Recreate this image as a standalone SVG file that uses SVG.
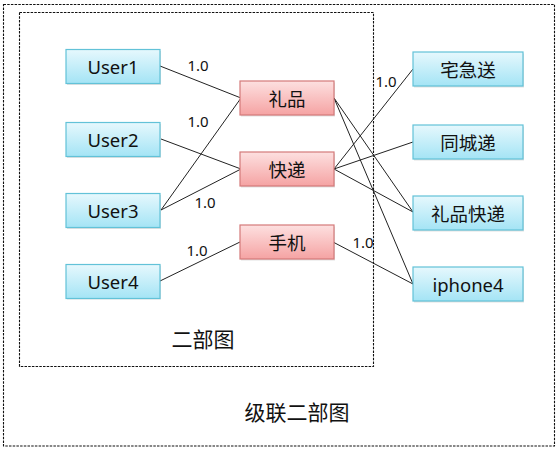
<svg xmlns="http://www.w3.org/2000/svg" width="557" height="449" viewBox="0 0 557 449">
<style>
.frame{fill:none;stroke:#111;stroke-width:1.1;stroke-dasharray:2.5,1.2}
.b{fill:url(#gb);stroke:#62c2d8;stroke-width:1.2}
.r{fill:url(#gr);stroke:#d47a7a;stroke-width:1.2}
.sh{fill:#000;opacity:0.12}
.t{font-family:"Noto Sans","Noto Sans CJK SC",sans-serif;font-size:18.5px;fill:#111;text-anchor:middle;dominant-baseline:central}
.w{font-family:"Noto Sans",sans-serif;font-size:15px;fill:#111;text-anchor:middle;dominant-baseline:central}
.cap{font-family:"Noto Sans CJK SC",sans-serif;font-size:21px;fill:#111;text-anchor:middle;dominant-baseline:central}
#edges line{stroke:#222;stroke-width:1}
</style>
<defs>
<linearGradient id="gb" x1="0" y1="0" x2="0" y2="1"><stop offset="0" stop-color="#e6f8fd"/><stop offset="1" stop-color="#a4e4f5"/></linearGradient>
<linearGradient id="gr" x1="0" y1="0" x2="0" y2="1"><stop offset="0" stop-color="#fde0e0"/><stop offset="1" stop-color="#f5a3a3"/></linearGradient>
</defs>
<rect width="557" height="449" fill="#fff"/>
<rect class="frame" x="3.5" y="4.5" width="551" height="441.5"/>
<rect class="frame" x="19.5" y="12.5" width="354" height="354"/>
<g id="edges">
<line x1="160" y1="66" x2="241" y2="98"/>
<line x1="161" y1="139" x2="241" y2="169"/>
<line x1="161" y1="210" x2="241" y2="98"/>
<line x1="161" y1="210" x2="241" y2="169"/>
<line x1="160" y1="281" x2="240" y2="242"/>
<line x1="334" y1="98" x2="413" y2="212"/>
<line x1="334" y1="98" x2="413" y2="284"/>
<line x1="334" y1="169" x2="413" y2="69"/>
<line x1="334" y1="169" x2="413" y2="142"/>
<line x1="334" y1="169" x2="413" y2="212"/>
<line x1="333" y1="242" x2="413" y2="284"/>
<text class="w" x="198" y="65">1.0</text>
<text class="w" x="198" y="121">1.0</text>
<text class="w" x="205" y="202">1.0</text>
<text class="w" x="197" y="250">1.0</text>
<text class="w" x="386" y="81">1.0</text>
<text class="w" x="363" y="242">1.0</text>
</g>
<g id="user1"><rect class="sh" x="67" y="51" width="94" height="34"/><rect class="b" x="66" y="49.5" width="94" height="34"/><text class="t" x="113" y="66.5">User1</text></g>
<g id="user2"><rect class="sh" x="67" y="124" width="94" height="34"/><rect class="b" x="66" y="122.5" width="94" height="34"/><text class="t" x="113" y="139.5">User2</text></g>
<g id="user3"><rect class="sh" x="67" y="195" width="94" height="34"/><rect class="b" x="66" y="193.5" width="94" height="34"/><text class="t" x="113" y="210.5">User3</text></g>
<g id="user4"><rect class="sh" x="67" y="265.5" width="94" height="34"/><rect class="b" x="66" y="264.5" width="94" height="34"/><text class="t" x="113" y="281.5">User4</text></g>
<g id="lipin"><rect class="sh" x="241" y="82.5" width="94" height="34"/><rect class="r" x="240" y="81" width="94" height="34"/><text class="t" x="287" y="98">礼品</text></g>
<g id="kuaidi"><rect class="sh" x="241" y="153.5" width="94" height="34"/><rect class="r" x="240" y="152" width="94" height="34"/><text class="t" x="287" y="169">快递</text></g>
<g id="shouji"><rect class="sh" x="241" y="226.5" width="94" height="34"/><rect class="r" x="240" y="225" width="94" height="34"/><text class="t" x="287" y="242">手机</text></g>
<g id="zhaijisong"><rect class="sh" x="414" y="53.5" width="110" height="34"/><rect class="b" x="413" y="52" width="110" height="34"/><text class="t" x="468" y="69">宅急送</text></g>
<g id="tongchengdi"><rect class="sh" x="414" y="126.5" width="110" height="34"/><rect class="b" x="413" y="125" width="110" height="34"/><text class="t" x="468" y="142">同城递</text></g>
<g id="lipinkuaidi"><rect class="sh" x="414" y="197.5" width="110" height="34"/><rect class="b" x="413" y="196" width="110" height="34"/><text class="t" x="468" y="213">礼品快递</text></g>
<g id="iphone4"><rect class="sh" x="414" y="268.5" width="110" height="34"/><rect class="b" x="413" y="267" width="110" height="34"/><text class="t" x="468" y="284">iphone4</text></g>
<text class="cap" x="203" y="338">二部图</text>
<text class="cap" x="297" y="411">级联二部图</text>
</svg>
